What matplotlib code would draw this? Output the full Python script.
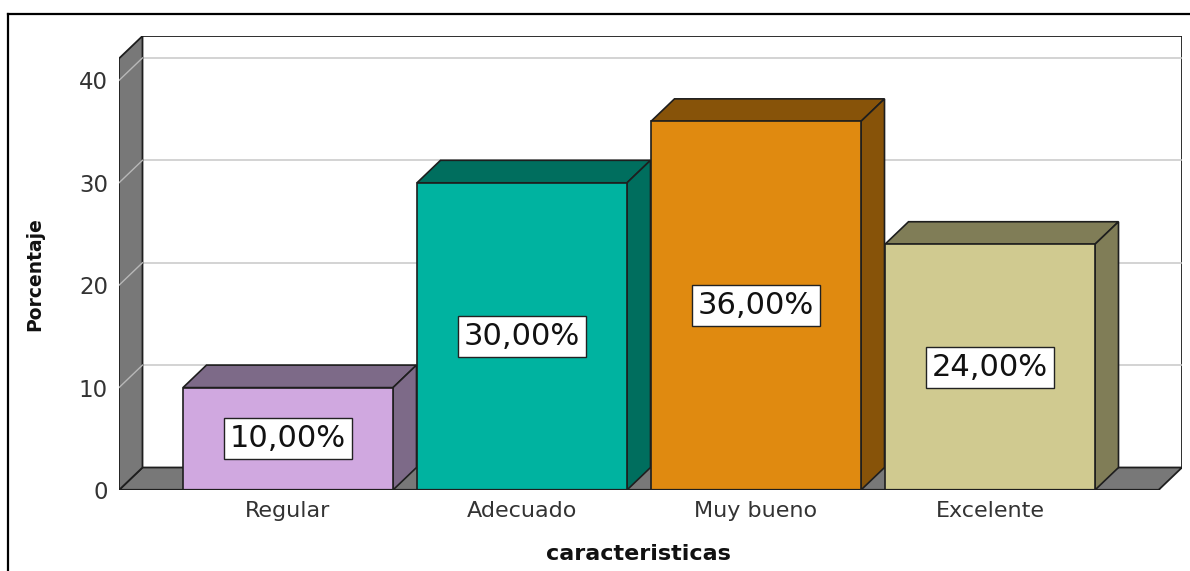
import matplotlib
matplotlib.use("Agg")
import matplotlib.pyplot as plt
from matplotlib.patches import Polygon
from matplotlib.lines import Line2D

# ---- data ----
categorias = ["Regular", "Adecuado", "Muy bueno", "Excelente"]
porcentaje = [10.0, 30.0, 36.0, 24.0]
y_ticks = [0, 10, 20, 30, 40]
etiquetas = [f"{v:.2f}%".replace(".", ",") for v in porcentaje]

# ---- style ----
front_colors = ["#D0A8E0", "#00B3A0", "#E08A10", "#D0CA90"]
dark_colors = ["#7D6A88", "#006E5E", "#875309", "#807D57"]
wall_color = "#787878"
edge = "#1E1E1E"

W, H = 1190, 571
fig = plt.figure(figsize=(W / 100, H / 100), dpi=100)

# axes placement (pixel geometry)
left_px, right_px, bottom_px, top_px = 119, 1182, 490, 36
ax = fig.add_axes([left_px / W, (H - bottom_px) / H,
                   (right_px - left_px) / W, (bottom_px - top_px) / H])

slot_px = 234.0
unit_px = 10.24  # pixels per percentage point
x0 = (left_px - 288) / slot_px
xR = (right_px - 288) / slot_px
ytop = (bottom_px - top_px) / unit_px
dx = 23.5 / slot_px
dy = 22.5 / unit_px
wall_top = ytop - dy
xF = xR - dx
bw = 210 / slot_px

ax.set_xlim(x0, xR)
ax.set_ylim(0, ytop)
for s in ax.spines.values():
    s.set_visible(False)

# back wall
ax.add_patch(Polygon([(x0 + dx, dy), (xR, dy), (xR, ytop), (x0 + dx, ytop)],
                     closed=True, fc="white", ec=edge, lw=1.3, zorder=1))
# gridlines on back wall and left wall
for t in y_ticks[1:]:
    ax.plot([x0 + dx, xR], [t + dy, t + dy], color="#C8C8C8", lw=1.1, zorder=1.5)
# floor
ax.add_patch(Polygon([(x0, 0), (xF, 0), (xR, dy), (x0 + dx, dy)],
                     closed=True, fc=wall_color, ec=edge, lw=1.3, zorder=2))
# left wall
ax.add_patch(Polygon([(x0, 0), (x0, wall_top), (x0 + dx, ytop), (x0 + dx, dy)],
                     closed=True, fc=wall_color, ec=edge, lw=1.3, zorder=2))
for t in y_ticks[1:]:
    ax.plot([x0, x0 + dx], [t, t + dy], color="#B8B8B8", lw=1.0, zorder=2.5)

# bars
for i, (v, fc, dc, lab) in enumerate(zip(porcentaje, front_colors, dark_colors, etiquetas)):
    l, r = i - bw / 2, i + bw / 2
    z = 3 + i
    ax.add_patch(Polygon([(l, v), (r, v), (r + dx, v + dy), (l + dx, v + dy)],
                         closed=True, fc=dc, ec=edge, lw=1.2, zorder=z))
    ax.add_patch(Polygon([(r, 0), (r + dx, dy), (r + dx, v + dy), (r, v)],
                         closed=True, fc=dc, ec=edge, lw=1.2, zorder=z))
    ax.add_patch(Polygon([(l, 0), (r, 0), (r, v), (l, v)],
                         closed=True, fc=fc, ec=edge, lw=1.2, zorder=z))
    ax.text(i, v / 2, lab, ha="center", va="center", fontsize=22,
            family="DejaVu Sans", color="#111111", zorder=10,
            bbox=dict(boxstyle="square,pad=0.2", fc="white", ec="#222222", lw=1.0))

# front floor edge
ax.plot([x0, xF], [0, 0], color=edge, lw=1.6, zorder=9)

ax.set_yticks(y_ticks)
ax.set_yticklabels([str(t) for t in y_ticks], fontsize=16.5, color="#333333")
ax.set_xticks(range(len(categorias)))
ax.set_xticklabels(categorias, fontsize=16, color="#333333")
ax.tick_params(axis="y", length=0, pad=8)
ax.tick_params(axis="x", length=0, pad=8)

fig.text(638 / W, (H - 554) / H, "caracteristicas", ha="center", va="center",
         fontsize=16, fontweight="bold", color="#111111")
fig.text(35 / W, (H - 274) / H, "Porcentaje", ha="center", va="center",
         rotation=90, fontsize=13.5, fontweight="bold", color="#111111")

# outer frame
fig.add_artist(Line2D([8 / W, 1.0], [(H - 14) / H, (H - 14) / H],
                      transform=fig.transFigure, color="black", lw=1.6))
fig.add_artist(Line2D([8 / W, 8 / W], [0, (H - 14) / H],
                      transform=fig.transFigure, color="black", lw=1.6))

fig.savefig("out.png", dpi=100)
